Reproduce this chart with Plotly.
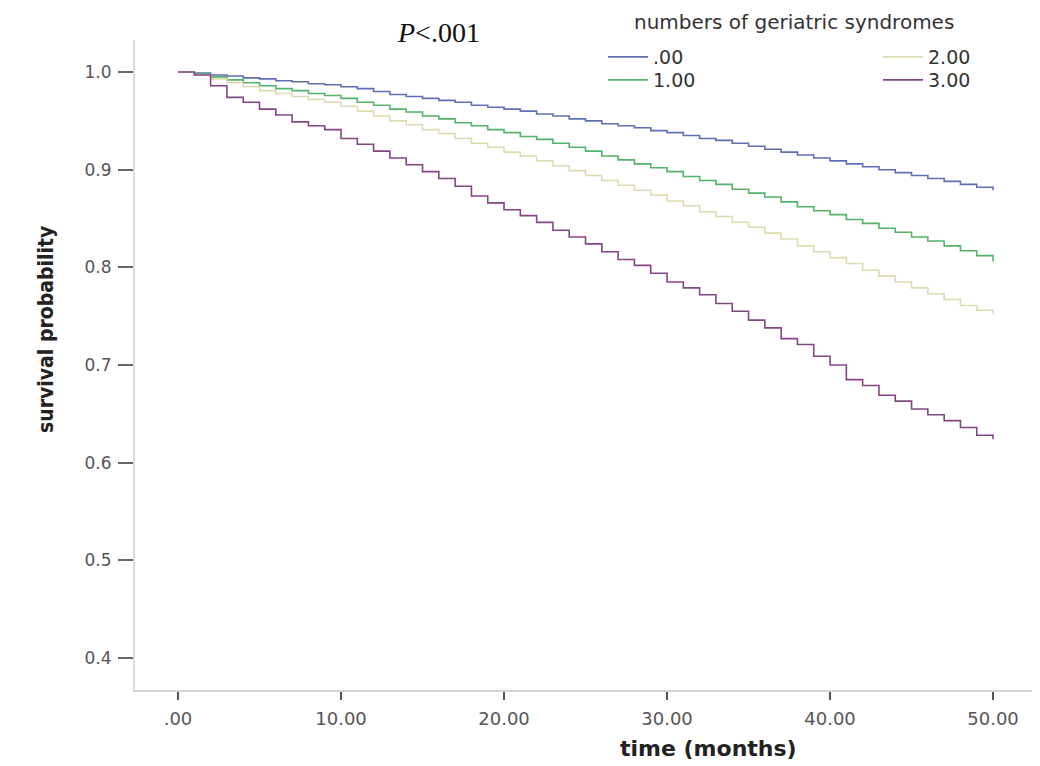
import plotly.graph_objects as go

months = list(range(0, 51))

surv_00 = [1.000, 0.999, 0.997, 0.996, 0.994, 0.993, 0.991, 0.990, 0.988, 0.987,
           0.985, 0.983, 0.980, 0.977, 0.975, 0.973, 0.971, 0.969, 0.966, 0.964,
           0.962, 0.960, 0.957, 0.955, 0.952, 0.950, 0.947, 0.945, 0.943, 0.940,
           0.938, 0.935, 0.932, 0.930, 0.927, 0.924, 0.921, 0.918, 0.915, 0.912,
           0.909, 0.906, 0.903, 0.900, 0.897, 0.894, 0.891, 0.888, 0.885, 0.882,
           0.879]
surv_10 = [1.000, 0.998, 0.995, 0.992, 0.989, 0.986, 0.983, 0.981, 0.978, 0.976,
           0.973, 0.969, 0.966, 0.962, 0.959, 0.955, 0.952, 0.948, 0.945, 0.941,
           0.938, 0.934, 0.931, 0.927, 0.923, 0.919, 0.914, 0.910, 0.906, 0.902,
           0.898, 0.893, 0.889, 0.885, 0.880, 0.876, 0.872, 0.867, 0.862, 0.858,
           0.854, 0.849, 0.845, 0.840, 0.836, 0.831, 0.827, 0.822, 0.817, 0.812,
           0.806]
surv_20 = [1.000, 0.997, 0.993, 0.989, 0.985, 0.981, 0.978, 0.975, 0.972, 0.969,
           0.965, 0.960, 0.955, 0.950, 0.946, 0.941, 0.937, 0.932, 0.927, 0.923,
           0.918, 0.914, 0.909, 0.904, 0.899, 0.894, 0.889, 0.884, 0.879, 0.874,
           0.868, 0.863, 0.857, 0.852, 0.846, 0.841, 0.835, 0.829, 0.822, 0.816,
           0.810, 0.804, 0.797, 0.791, 0.785, 0.779, 0.773, 0.767, 0.761, 0.756,
           0.752]
surv_30 = [1.000, 0.997, 0.986, 0.974, 0.969, 0.962, 0.956, 0.949, 0.945, 0.941,
           0.932, 0.926, 0.919, 0.912, 0.905, 0.898, 0.891, 0.883, 0.873, 0.866,
           0.859, 0.853, 0.846, 0.838, 0.831, 0.824, 0.816, 0.808, 0.802, 0.794,
           0.785, 0.779, 0.772, 0.763, 0.755, 0.746, 0.738, 0.727, 0.721, 0.709,
           0.700, 0.685, 0.679, 0.669, 0.663, 0.655, 0.649, 0.643, 0.636, 0.628,
           0.624]

group_names = [".00", "1.00", "2.00", "3.00"]
group_colors = ["#5e6fb3", "#52b468", "#dedbb0", "#844585"]
group_legends = ["legend", "legend2", "legend3", "legend4"]
legend_title = "numbers of geriatric syndromes"

x_tickvals = [0, 10, 20, 30, 40, 50]
x_ticktext = [".00", "10.00", "20.00", "30.00", "40.00", "50.00"]
y_tickvals = [0.4, 0.5, 0.6, 0.7, 0.8, 0.9, 1.0]
y_ticktext = ["0.4", "0.5", "0.6", "0.7", "0.8", "0.9", "1.0"]

series = [surv_00, surv_10, surv_20, surv_30]

# plot-area geometry (figure pixels; page adds an 8px body offset)
L, T, PW, PH = 127, 32, 913, 650


def px(x):
    return (x - L) / PW


def py(y):
    return 1 - (y - T) / PH


fig = go.Figure()
for name, vals, col, lg in zip(group_names, series, group_colors, group_legends):
    fig.add_trace(go.Scatter(
        x=months, y=vals, mode="lines", name=name,
        line=dict(color=col, width=1.6, shape="hv"),
        legend=lg,
    ))

legend_font = dict(family="DejaVu Sans, sans-serif", size=19, color="#333333")


def legend_box(xp, yp):
    return dict(x=px(xp), y=py(yp), xanchor="left", yanchor="top", font=legend_font,
                bgcolor="rgba(0,0,0,0)", tracegroupgap=0, itemwidth=40)


fig.update_layout(
    width=1040, height=766,
    margin=dict(l=L, r=1040 - L - PW, t=T, b=766 - T - PH),
    plot_bgcolor="white", paper_bgcolor="white",
    showlegend=True,
    legend=legend_box(595, 30),
    legend2=legend_box(595, 53),
    legend3=legend_box(870, 30),
    legend4=legend_box(870, 53),
    xaxis=dict(
        range=[-2.638, 53.37], tickvals=x_tickvals, ticktext=x_ticktext,
        showgrid=False, zeroline=False, showline=True, linecolor="#d4d4d4", linewidth=2,
        ticks="outside", ticklen=8, tickwidth=2, tickcolor="#555555",
        ticklabelstandoff=3,
        tickfont=dict(family="DejaVu Sans, sans-serif", size=18, color="#555555"),
    ),
    yaxis=dict(
        range=[0.3672, 1.0328], tickvals=y_tickvals, ticktext=y_ticktext,
        showgrid=False, zeroline=False, showline=True, linecolor="#dcdcdc", linewidth=2,
        ticks="outside", ticklen=15, tickwidth=2, tickcolor="#666666",
        ticklabelstandoff=3,
        tickfont=dict(family="DejaVu Sans, sans-serif", size=17, color="#555555"),
    ),
    annotations=[
        dict(text=legend_title, x=px(786), y=py(0), xref="paper", yref="paper",
             xanchor="center", yanchor="top", showarrow=False,
             font=dict(family="DejaVu Sans, sans-serif", size=20, color="#333333")),
        dict(text="<i>P</i>&lt;.001", x=px(430), y=py(25), xref="paper", yref="paper",
             xanchor="center", yanchor="middle", showarrow=False,
             font=dict(family="Liberation Serif, Times New Roman, serif",
                       size=28, color="#111111")),
        dict(text="<b>time (months)</b>", x=px(700), y=py(740), xref="paper", yref="paper",
             xanchor="center", yanchor="middle", showarrow=False,
             font=dict(family="DejaVu Sans, sans-serif", size=22, color="#222222")),
        dict(text="<b>survival probability</b>", x=px(38), y=py(322), xref="paper",
             yref="paper", xanchor="center", yanchor="middle", showarrow=False,
             textangle=-90,
             font=dict(family="Liberation Sans Narrow, DejaVu Sans Condensed, sans-serif",
                       size=21, color="#222222")),
    ],
)

fig.write_html("out.html")
